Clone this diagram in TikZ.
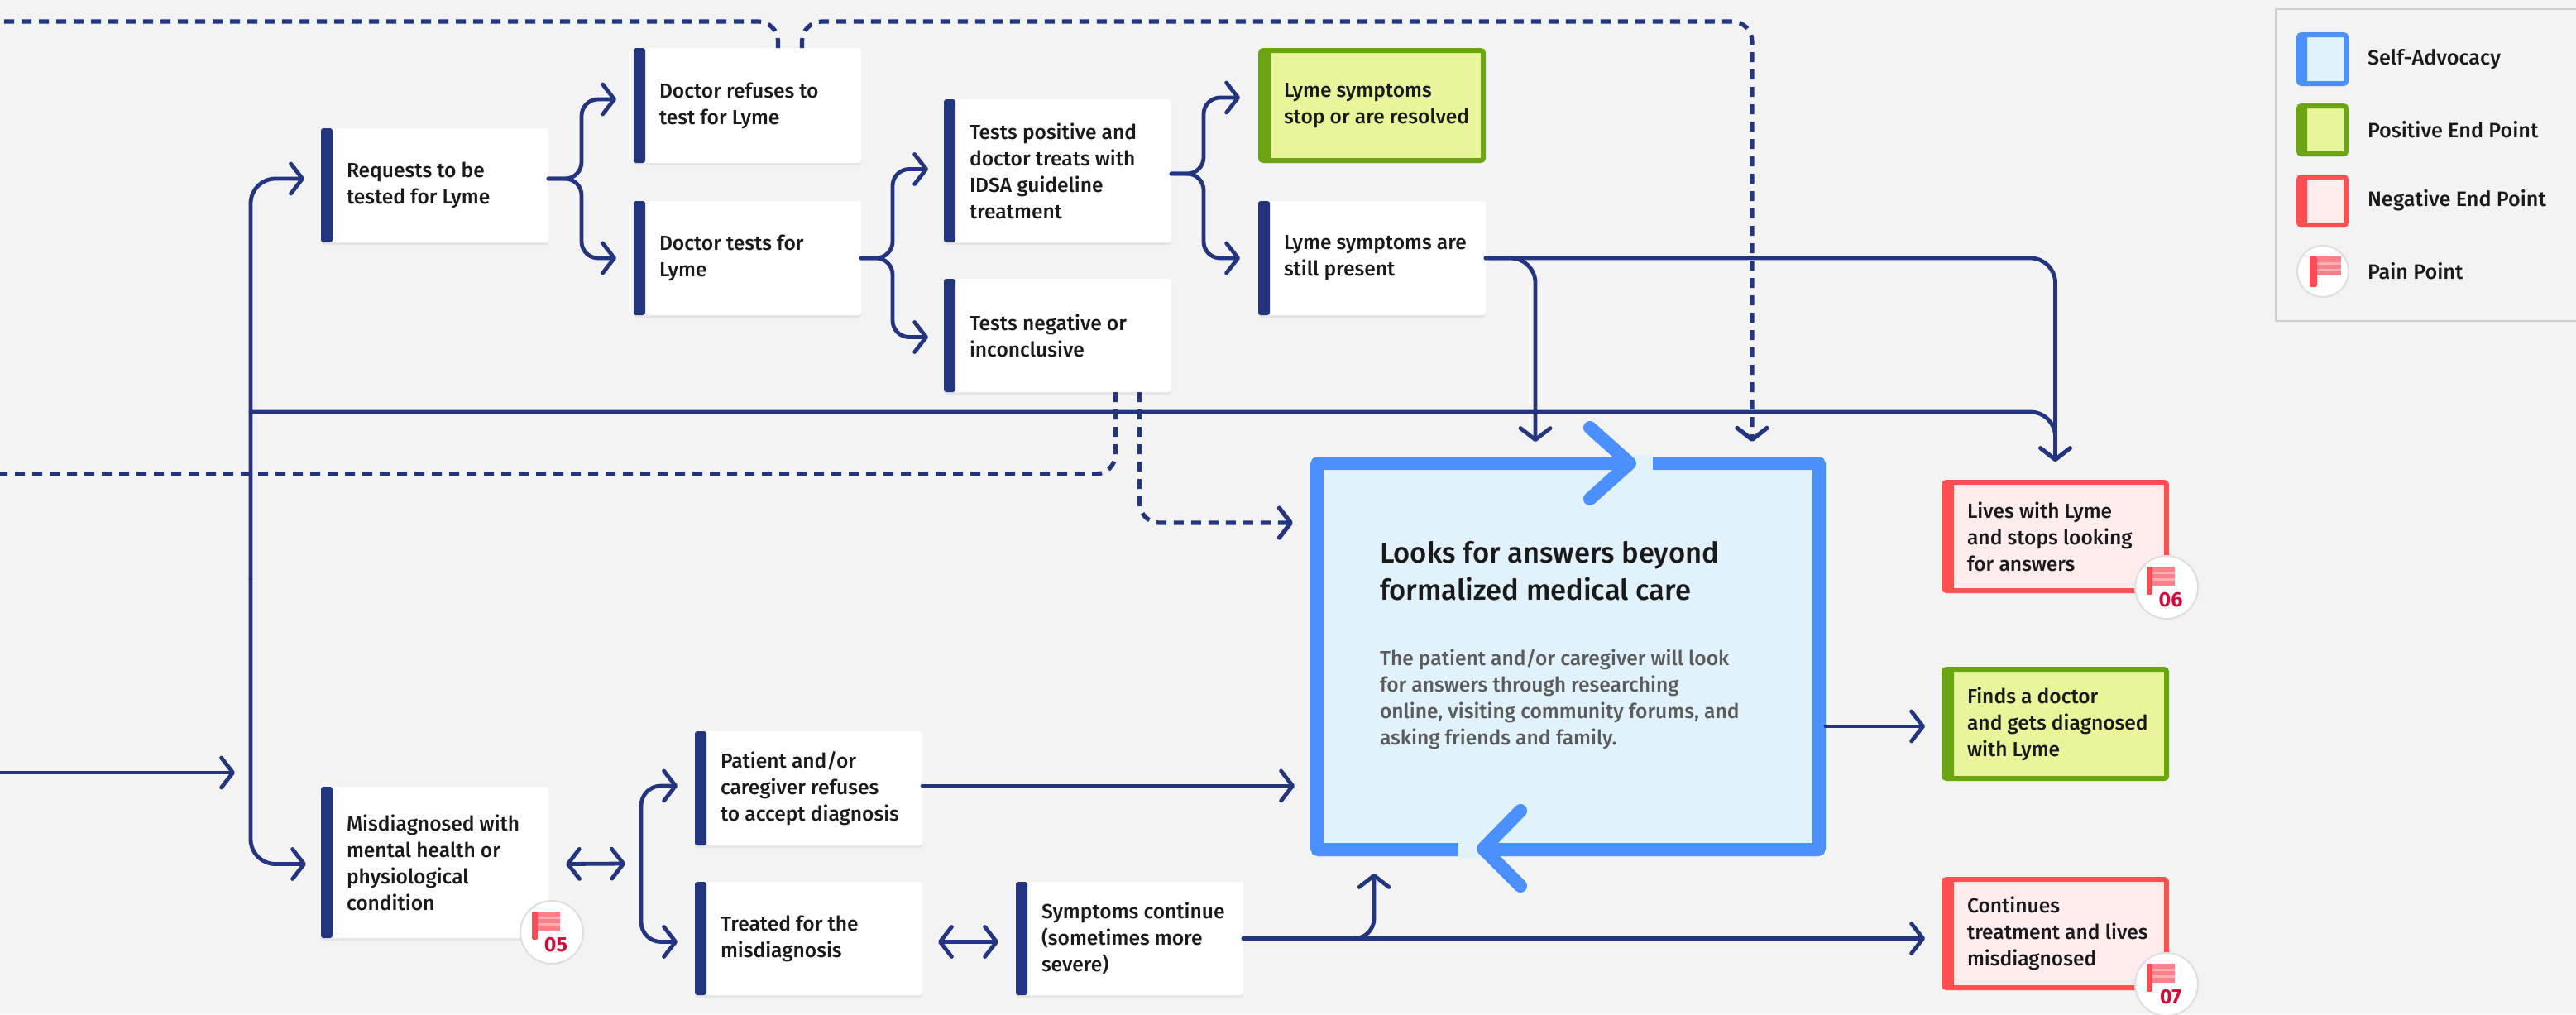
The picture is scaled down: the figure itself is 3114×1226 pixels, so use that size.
\documentclass[tikz,border=0pt]{standalone}
\usepackage{fontspec}
\setmainfont{Fira Sans}[UprightFont=* Medium, BoldFont=* Bold]
\usetikzlibrary{arrows.meta,calc,shadows}
\definecolor{bg}{HTML}{F3F3F3}
\definecolor{navy}{HTML}{23357F}
\definecolor{grn}{HTML}{6BA512}
\definecolor{grnfill}{HTML}{E8F59A}
\definecolor{rd}{HTML}{FF4F52}
\definecolor{rdfill}{HTML}{FFECEC}
\definecolor{blu}{HTML}{4A90FF}
\definecolor{blufill}{HTML}{E1F2FD}
\definecolor{bodygrey}{HTML}{5B5B5B}
\definecolor{ink}{HTML}{1A1A1A}
\definecolor{crimson}{HTML}{D10A3C}
\definecolor{flagpole}{HTML}{FF4B57}
\definecolor{flagrect}{HTML}{FF8089}
\definecolor{flagstripe}{HTML}{FFB0B5}
\definecolor{legframe}{HTML}{CFCFCF}
\newcommand\boxfont{\fontsize{12.3pt}{16pt}\selectfont}
\tikzset{
  every node/.style={outer sep=0pt},
  softshadow/.style={drop shadow={opacity=0.12,shadow xshift=0pt,shadow yshift=-1.5pt}},
  stepbox/.style={rectangle, rounded corners=1.5pt, fill=white, anchor=north west,
    minimum width=137.5pt, inner sep=0pt, outer sep=0pt, softshadow,
    path picture={\fill[navy] (path picture bounding box.north west) rectangle ([xshift=7pt]path picture bounding box.south west);}},
  endbox/.style={rectangle, rounded corners=1.5pt, anchor=north west, draw=#1, line width=3pt,
    minimum width=134.5pt, inner sep=0pt, outer sep=0pt, softshadow,
    path picture={\fill[#1] (path picture bounding box.north west) rectangle ([xshift=6pt]path picture bounding box.south west);}},
  posbox/.style={endbox=grn, fill=grnfill},
  negbox/.style={endbox=rd, fill=rdfill},
  boxtext/.style={anchor=west, align=left, inner sep=0pt, font=\boxfont, text=ink},
  bigbox/.style={rectangle, rounded corners=1pt, anchor=north west, draw=blu, fill=blufill,
    line width=8pt, inner sep=0pt, outer sep=0pt, minimum width=303.5pt, minimum height=233.5pt,
    drop shadow={opacity=0.15,shadow xshift=0pt,shadow yshift=-2pt}},
  conn/.style={draw=navy, line width=2.4pt, line cap=round},
  dconn/.style={draw=navy, line width=2.6pt, dash pattern=on 6pt off 4.5pt},
  arr/.style={-{Straight Barb[length=7pt,width=18pt,round]}},
  darr/.style={{Straight Barb[length=7pt,width=18pt,round]}-{Straight Barb[length=7pt,width=18pt,round]}},
  chev/.style={draw=blu, line width=8pt, line cap=round, line join=round},
  badgecirc/.style={circle, fill=white, draw=black!13, line width=1pt, minimum size=38pt, inner sep=0pt, outer sep=0pt},
  badgenum/.style={anchor=base, inner sep=0pt, text=crimson, font=\bfseries\fontsize{12.5pt}{12.5pt}\selectfont},
  legtext/.style={anchor=west, inner sep=0pt, text=ink, font=\fontsize{12.6pt}{15pt}\selectfont},
}
\newcommand\stepat[6]{%
  \node[#1, minimum height=#5] (#2) at (#3,#4) {};
  \node[boxtext] (#2t) at ($(#2.west)+(31,0)$) {#6};
}
\newcommand\finalat[6]{%
  \node[#1, minimum height=#5] (#2) at (#3,#4) {};
  \node[boxtext] (#2t) at ($(#2.west)+(28,0)$) {#6};
}
\newcommand\flagicon[1]{% #1 centre
  \fill[flagrect] ($(#1)+(-24,-25)$) rectangle ($(#1)+(10,-2)$);
  \fill[flagstripe] ($(#1)+(-24,-19)$) rectangle ($(#1)+(10,-16)$);
  \fill[flagstripe] ($(#1)+(-24,-11)$) rectangle ($(#1)+(10,-8)$);
  \fill[flagpole, rounded corners=0.8pt] ($(#1)+(-24,-25)$) rectangle ($(#1)+(-17,9)$);
}
\newcommand\badge[3]{% #1 name, #2 position, #3 number
  \node[badgecirc] (#1) at (#2) {};
  \flagicon{#1}
  \node[badgenum] (#1n) at ($(#1)+(5,23)$) {#3};
}
\begin{document}
\begin{tikzpicture}[x=0.5pt,y=-0.5pt]
\fill[bg] (0,0) rectangle (3114,1226);
\useasboundingbox (0,0) rectangle (3114,1226);

% ---------- boxes ----------
\stepat{stepbox}{req}{388}{155}{69pt}{Requests to be\\tested for Lyme}
\stepat{stepbox}{refuse}{766}{58}{69.5pt}{Doctor refuses to\\test for Lyme}
\stepat{stepbox}{tests}{766}{243}{69pt}{Doctor tests for\\Lyme}
\stepat{stepbox}{pos}{1141}{120}{86.5pt}{Tests positive and\\doctor treats with\\IDSA guideline\\treatment}
\stepat{stepbox}{neg}{1141}{337}{68.5pt}{Tests negative or\\inconclusive}
\finalat{posbox}{stop}{1524}{61}{66.5pt}{Lyme symptoms\\stop or are resolved}
\stepat{stepbox}{still}{1521}{243}{69pt}{Lyme symptoms are\\still present}
\stepat{stepbox}{misd}{388}{951}{91.5pt}{Misdiagnosed with\\mental health or\\physiological\\condition}
\stepat{stepbox}{patient}{840}{884}{69pt}{Patient and/or\\caregiver refuses\\to accept diagnosis}
\stepat{stepbox}{treated}{840}{1066}{68.5pt}{Treated for the\\misdiagnosis}
\stepat{stepbox}{sympt}{1228}{1066}{68.5pt}{Symptoms continue\\(sometimes more\\severe)}
\finalat{negbox}{lives}{2350}{583}{65.5pt}{Lives with Lyme\\and stops looking\\for answers}
\finalat{posbox}{finds}{2350}{809}{66pt}{Finds a doctor\\and gets diagnosed\\with Lyme}
\finalat{negbox}{cont}{2350}{1063}{65.5pt}{Continues\\treatment and lives\\misdiagnosed}

% ---------- big self-advocacy box ----------
\node[bigbox] (big) at (1592,560) {};
\fill[blufill] (1966,550) rectangle (1998,569);
\fill[blufill] (1763,1018) rectangle (1794,1037);
\draw[chev] (1922,517) -- (1970,560) -- (1922,603);
\draw[chev] (1838,980) -- (1793,1026) -- (1838,1071);
\node[anchor=base west, align=left, inner sep=0pt, text=ink,
  font=\fontsize{17.3pt}{22.5pt}\selectfont] (bigT) at (1668,725)
  {Looks for answers beyond\\formalized medical care};
\node[anchor=base west, align=left, inner sep=0pt, text=bodygrey,
  font=\fontsize{12.3pt}{16pt}\selectfont] (bigB) at (1668,900)
  {The patient and/or caregiver will look\\for answers through researching\\online, visiting community forums, and\\asking friends and family.};

% ---------- connectors ----------
\coordinate (trunk) at (303,700);
\coordinate (tj) at (303,498);
\coordinate (entry) at (0,934);
\coordinate (westtop) at (0,26);
\coordinate (toprt) at (2118,26);
\coordinate (westmid) at (0,573);
\coordinate (mbr) at (775,1044);

\draw[conn, arr] (entry) -- ($(entry -| trunk)+(-19,0)$);
\draw[conn, arr, rounded corners=15pt] (trunk) |- ($(req.west)+(-20,-8)$);
\draw[conn, arr, rounded corners=15pt] (trunk) |- ($(misd.west)+(-18,2)$);
\draw[conn, arr, rounded corners=15pt] (tj) -| ($(lives.north)+(0,-25)$);

\draw[conn, arr, rounded corners=10pt] ($(req.east)+(0,-8)$) -- ++(40,0) |- ($(refuse.west)+(-21,-7.5)$);
\draw[conn, arr, rounded corners=10pt] ($(req.east)+(0,-8)$) -- ++(40,0) |- ($(tests.west)+(-21,0)$);
\draw[conn, arr, rounded corners=10pt] (tests.east) -- ++(38,0) |- ($(pos.west)+(-19,-2)$);
\draw[conn, arr, rounded corners=10pt] (tests.east) -- ++(38,0) |- ($(neg.west)+(-19,2)$);
\draw[conn, arr, rounded corners=10pt] ($(pos.east)+(0,3.5)$) -- ++(39,0) |- ($(stop.west)+(-25,-9.5)$);
\draw[conn, arr, rounded corners=10pt] ($(pos.east)+(0,3.5)$) -- ++(39,0) |- ($(still.west)+(-22,0)$);

\draw[conn, arr, rounded corners=15pt] (still.east) -| ($(lives.north)+(0,-25)$);
\draw[conn, arr, rounded corners=15pt] (still.east) -| ($(big.north)+(-39.5,-26)$);

\draw[dconn, rounded corners=12pt] ($(refuse.north)+(37,0)$) |- (westtop);
\draw[dconn, arr, rounded corners=12pt] ($(refuse.north)+(66,0)$) |- (toprt) -- ($(big.north)+(222.5,-26)$);
\draw[dconn, rounded corners=12pt] ($(neg.south)+(70,0)$) |- (westmid);
\draw[dconn, arr, rounded corners=12pt] ($(neg.south)+(99,0)$) |- ($(big.west)+(-29,-161.5)$);

\draw[conn, darr] ($(misd.east)+(21,2)$) -- ($(mbr)+(-19,0)$);
\draw[conn, darr, rounded corners=12pt] ($(patient.west)+(-21,-3)$) -| (mbr) |- ($(treated.west)+(-21,4)$);
\draw[conn, darr] ($(treated.east)+(19,4)$) -- ($(sympt.west)+(-21,4)$);
\draw[conn, arr] ($(patient.east)+(0,-3)$) -- ($(patient.east -| big.west)+(-27,-3)$);
\draw[conn, arr] (sympt.east) -- ($(sympt.east -| cont.west)+(-23,0)$);
\draw[conn, arr, rounded corners=12pt] (sympt.east) -| ($(big.south)+(-234.5,29)$);
\draw[conn, arr] ($(big.east)+(8,84.5)$) -- ($(big.east -| finds.west)+(-23,84.5)$);

% ---------- pain badges ----------
\badge{b05}{$(misd.south east)+(4,-7)$}{05}
\badge{b06}{$(lives.south east)+(0,-4)$}{06}
\badge{b07}{$(cont.south east)+(0,-4)$}{07}

% ---------- legend ----------
\node[rectangle, anchor=north west, draw=legframe, fill=bg, line width=1.2pt, minimum width=190pt,
  minimum height=188.5pt, inner sep=0pt, drop shadow={opacity=0.08,shadow xshift=0pt,shadow yshift=-1pt}] (legend) at (2751,11) {};
\node[endbox=blu, fill=blufill, minimum width=28.5pt, minimum height=29.5pt, path picture={\fill[blu] (path picture bounding box.north west) rectangle ([xshift=5pt]path picture bounding box.south west);}] (swA) at (2779,42) {};
\node[posbox, minimum width=28.5pt, minimum height=29pt, path picture={\fill[grn] (path picture bounding box.north west) rectangle ([xshift=5pt]path picture bounding box.south west);}] (swB) at (2779,128) {};
\node[negbox, minimum width=28.5pt, minimum height=29pt, path picture={\fill[rd] (path picture bounding box.north west) rectangle ([xshift=5pt]path picture bounding box.south west);}] (swC) at (2779,214) {};
\node[badgecirc, minimum size=31pt] (swD) at (2808,328) {};
\fill[flagrect] (2792,310) rectangle (2830,333);
\fill[flagstripe] (2792,317) rectangle (2830,320);
\fill[flagstripe] (2792,325) rectangle (2830,328);
\fill[flagpole, rounded corners=0.8pt] (2792,310) rectangle (2801,347);
\node[legtext] (lgA) at (2862,72) {Self-Advocacy};
\node[legtext] (lgB) at (2862,157) {Positive End Point};
\node[legtext] (lgC) at (2862,242) {Negative End Point};
\node[legtext] (lgD) at (2862,328) {Pain Point};
\end{tikzpicture}
\end{document}
